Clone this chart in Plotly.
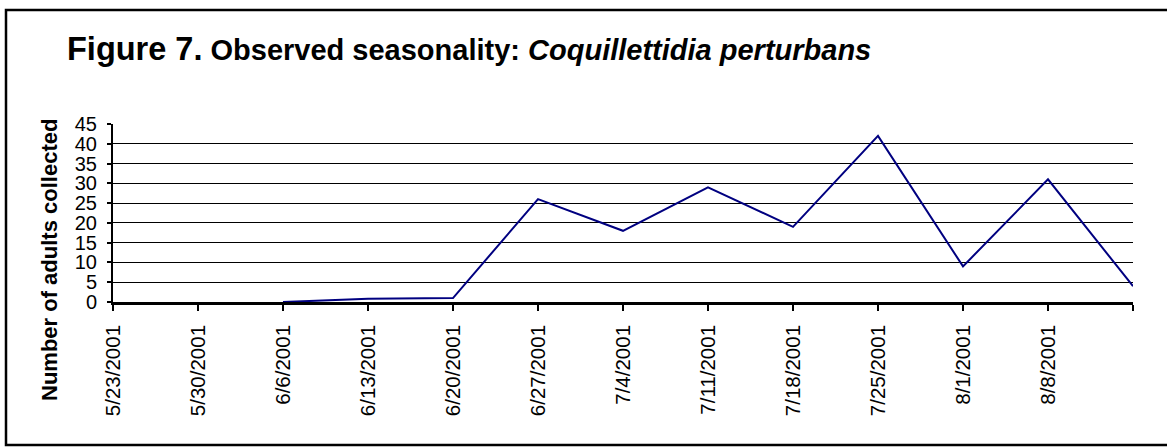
import plotly.graph_objects as go

# weekly axis labels (last tick has no label in the original)
week_dates = ['2001-05-23', '2001-05-30', '2001-06-06', '2001-06-13', '2001-06-20',
              '2001-06-27', '2001-07-04', '2001-07-11', '2001-07-18', '2001-07-25',
              '2001-08-01', '2001-08-08', '2001-08-15']
tick_labels = ['5/23/2001', '5/30/2001', '6/6/2001', '6/13/2001', '6/20/2001',
               '6/27/2001', '7/4/2001', '7/11/2001', '7/18/2001', '7/25/2001',
               '8/1/2001', '8/8/2001', '']

sample_dates = ['2001-06-06', '2001-06-13', '2001-06-20', '2001-06-27', '2001-07-04',
                '2001-07-11', '2001-07-18', '2001-07-25', '2001-08-01', '2001-08-08',
                '2001-08-15']
adults = [0, 0.8, 1, 26, 18, 29, 19, 42, 9, 31, 4]

FONT = 'Liberation Sans, Arial, sans-serif'

# plot area in page pixels, used to place the paper-level items
L, R, T, B = 113, 1133, 124, 302
W, H = 1167, 448


def px(x):
    return (x - L) / (R - L)


def py(y):
    return (B - y) / (B - T)


fig = go.Figure()
fig.add_trace(go.Scatter(x=sample_dates, y=adults, mode='lines',
                         line=dict(color='#000080', width=2), hoverinfo='x+y'))

fig.update_layout(
    width=W, height=H,
    margin=dict(l=L, r=W - R, t=T, b=H - B),
    paper_bgcolor='white', plot_bgcolor='white',
    showlegend=False,
    font=dict(family=FONT, color='black'),
)

fig.update_xaxes(
    type='date', range=[week_dates[0], week_dates[-1]],
    tickmode='array', tickvals=week_dates, ticktext=tick_labels,
    tickangle=-90, tickfont=dict(size=20.5, family=FONT, color='black'),
    ticks='outside', ticklen=6, tickwidth=2, tickcolor='black',
    showline=True, linecolor='black', linewidth=2.5,
    showgrid=False, zeroline=False, ticklabelstandoff=6,
)
fig.update_yaxes(
    range=[0, 45], tickmode='linear', tick0=0, dtick=5,
    tickfont=dict(size=20, family=FONT, color='black'),
    ticks='outside', ticklen=4, tickwidth=2, tickcolor='black',
    showline=True, linecolor='black', linewidth=2,
    showgrid=True, gridcolor='black', gridwidth=1,
    zeroline=False, ticklabelstandoff=6,
)

# title with mixed sizes
fig.add_annotation(
    xref='paper', yref='paper', x=px(65), y=py(49), xanchor='left', yanchor='middle',
    showarrow=False,
    text="<b><span style='font-size:32.5px'>Figure 7.</span> Observed seasonality: "
         "<i>Coquillettidia perturbans</i></b>",
    font=dict(size=29, family=FONT, color='black'),
)

# y axis title
fig.add_annotation(
    xref='paper', yref='paper', x=px(49), y=py(260), xanchor='center', yanchor='middle',
    showarrow=False, textangle=-90,
    text='<b>Number of adults collected</b>',
    font=dict(size=22, family=FONT, color='black'),
)

# outer frame (right side runs past the page edge)
fig.add_shape(type='rect', xref='paper', yref='paper',
              x0=px(6), x1=px(1180), y0=py(445), y1=py(10),
              line=dict(color='black', width=2.5), fillcolor='rgba(0,0,0,0)', layer='below')

# drop the default body margin so the figure sits at the page corner
fig.write_html('out.html', config={'displayModeBar': False},
               post_script="document.body.style.margin='0px';")
